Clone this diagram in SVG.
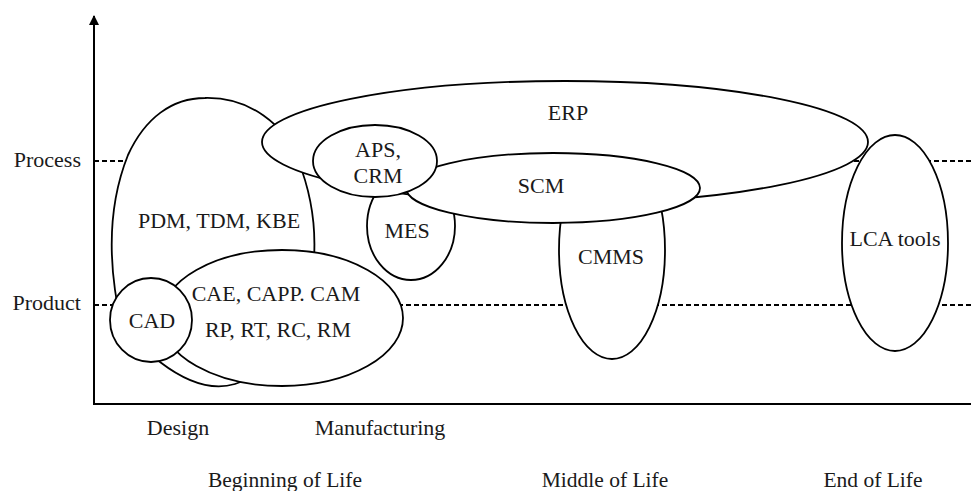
<svg xmlns="http://www.w3.org/2000/svg" width="971" height="491" viewBox="0 0 971 491">
<defs>
<style>
.shape{fill:#fff;stroke:#000;stroke-width:1.8}
.dash{fill:none;stroke:#000;stroke-width:1.8;stroke-dasharray:5 3}
.axis{fill:none;stroke:#000;stroke-width:2}
.t{font-family:'Liberation Serif','Times New Roman',serif;font-size:22px;fill:#1a1a1a}
.s{font-size:21.5px}
.c{text-anchor:middle}
.e{text-anchor:end}
</style>
<marker id="arr" viewBox="0 0 10 10" refX="9" refY="5" markerWidth="10" markerHeight="10" markerUnits="userSpaceOnUse" orient="auto">
<path d="M0,0 L10,5 L0,10 Z" fill="#000"/>
</marker>
</defs>
<rect width="971" height="491" fill="#fff"/>
<g id="connectors">
<line class="dash" x1="94" y1="161" x2="971" y2="161"/>
<line class="dash" x1="94" y1="305" x2="971" y2="305"/>
<line class="axis" x1="94" y1="404" x2="94" y2="16" marker-end="url(#arr)"/>
<line class="axis" x1="93" y1="404" x2="971" y2="404"/>
</g>
<g id="labels">
<text class="t e" x="81" y="167">Process</text>
<text class="t e" x="81" y="310">Product</text>
<text class="t c" x="178" y="435">Design</text>
<text class="t c" x="380" y="435">Manufacturing</text>
<text class="t s c" x="285" y="487">Beginning of Life</text>
<text class="t s c" x="605" y="487">Middle of Life</text>
<text class="t s c" x="873" y="487">End of Life</text>
</g>
<g id="pdm">
<path class="shape" d="M205,98 C250,97 285,125 298,160 C310,190 316,225 314,258 C311,310 280,370 235,384 C215,390 190,385 160,362 C135,345 118,320 115,290 C108,240 112,195 128,155 C145,118 172,98 205,98 Z"/>
<text class="t c" x="219" y="228">PDM, TDM, KBE</text>
</g>
<g id="cae">
<ellipse class="shape" cx="282" cy="318" rx="121" ry="68"/>
<text class="t c" x="276" y="301">CAE, CAPP. CAM</text>
<text class="t c" x="278" y="337">RP, RT, RC, RM</text>
</g>
<g id="cad">
<ellipse class="shape" cx="151" cy="320" rx="41" ry="42"/>
<text class="t c" x="152" y="328">CAD</text>
</g>
<g id="cmms">
<ellipse class="shape" cx="612" cy="250" rx="53" ry="109"/>
<text class="t c" x="611" y="264">CMMS</text>
</g>
<g id="mes">
<ellipse class="shape" cx="411" cy="226" rx="44" ry="54"/>
<text class="t c" x="407" y="238">MES</text>
</g>
<g id="erp">
<ellipse class="shape" cx="565" cy="142" rx="303" ry="61"/>
<text class="t c" x="568" y="120">ERP</text>
</g>
<g id="scm">
<ellipse class="shape" cx="553" cy="188" rx="147" ry="35"/>
<text class="t c" x="541" y="193">SCM</text>
</g>
<g id="aps">
<ellipse class="shape" cx="375" cy="161" rx="62" ry="36"/>
<text class="t c" x="378" y="157">APS,</text>
<text class="t c" x="378" y="183">CRM</text>
</g>
<g id="lca">
<ellipse class="shape" cx="895" cy="243" rx="53" ry="108"/>
<text class="t c" x="895" y="246">LCA tools</text>
</g>
</svg>
